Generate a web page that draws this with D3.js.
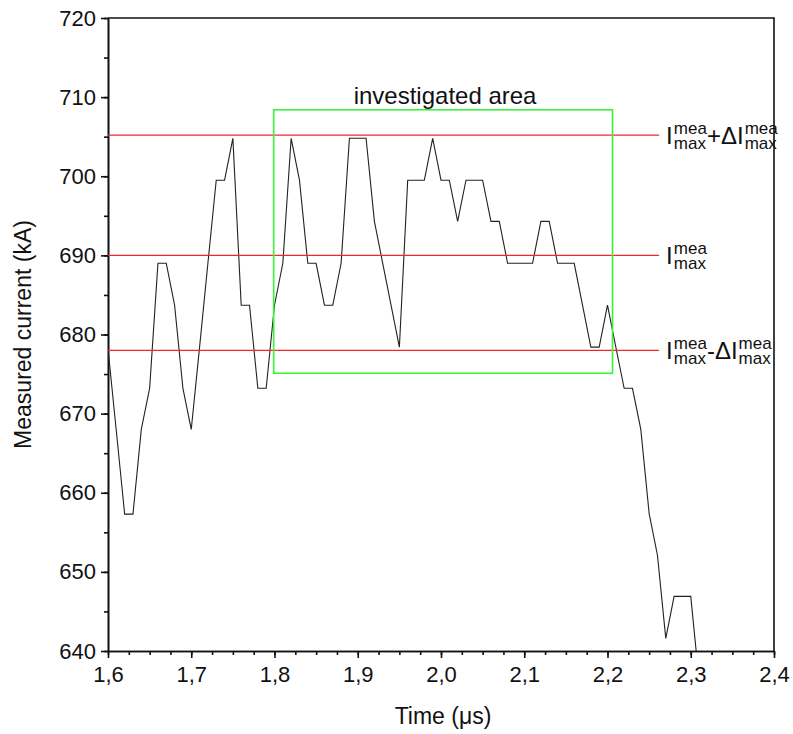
<!DOCTYPE html>
<html>
<head>
<meta charset="utf-8">
<script src="https://cdn.jsdelivr.net/npm/d3@7"></script>
<style>
  body { margin: 0; background: #fff; }
  text { font-family: "Liberation Sans", Arial, sans-serif; fill: #111; }
</style>
</head>
<body>
<svg id="chart" width="793" height="734"></svg>
<script>
// measured current trace (sampled every 0.01 us)
var times = [1.60,1.61,1.62,1.63,1.64,1.65,1.66,1.67,1.68,1.69,
             1.70,1.71,1.72,1.73,1.74,1.75,1.76,1.77,1.78,1.79,
             1.80,1.81,1.82,1.83,1.84,1.85,1.86,1.87,1.88,1.89,
             1.90,1.91,1.92,1.93,1.94,1.95,1.96,1.97,1.98,1.99,
             2.00,2.01,2.02,2.03,2.04,2.05,2.06,2.07,2.08,2.09,
             2.10,2.11,2.12,2.13,2.14,2.15,2.16,2.17,2.18,2.19,
             2.20,2.21,2.22,2.23,2.24,2.25,2.26,2.27,2.28,2.29,
             2.30,2.31];
var current = [678.2,667.8,657.3,657.3,668.0,673.2,689.0,689.0,683.7,673.2,
               668.0,678.4,689.0,699.5,699.5,704.8,683.7,683.7,673.2,673.2,
               683.7,689.0,704.8,699.5,689.0,689.0,683.7,683.7,689.0,704.8,
               704.8,704.8,694.3,689.0,683.7,678.4,699.5,699.5,699.5,704.8,
               699.5,699.5,694.3,699.5,699.5,699.5,694.3,694.3,689.0,689.0,
               689.0,689.0,694.3,694.3,689.0,689.0,689.0,683.7,678.4,678.4,
               683.7,678.4,673.2,673.2,668.0,657.4,652.1,641.6,646.9,646.9,
               646.9,636.3];

// reference levels: I_max^mea + dI, I_max^mea, I_max^mea - dI
var levels = [705.2, 690.0, 678.0];
var levelSigns = ["+", "", "-"];
var levelEndTime = 2.262;

// investigated area box
var areaTime = [1.799, 2.206];
var areaCurrent = [675.1, 708.4];
var areaTitle = "investigated area";

var xTicks = [1.6,1.7,1.8,1.9,2.0,2.1,2.2,2.3,2.4];
var yTicks = [640,650,660,670,680,690,700,710,720];

var margin = {top: 18, right: 19, bottom: 83, left: 108};
var W = 793, H = 734;
var w = W - margin.left - margin.right;
var h = H - margin.top - margin.bottom;

var svg = d3.select('#chart');
var g = svg.append('g').attr('transform', 'translate(' + margin.left + ',' + margin.top + ')');

var x = d3.scaleLinear().domain([1.6, 2.4]).range([0, w]);
var y = d3.scaleLinear().domain([640, 720]).range([h, 0]);
var fmt = function(d){ return d3.format('.1f')(d).replace('.', ','); };

g.append('clipPath').attr('id', 'clip')
  .append('rect').attr('width', w).attr('height', h);

// minor ticks
var xMinor = d3.range(0, 33).map(function(i){ return 1.6 + i * 0.025; });
var yMinor = d3.range(0, 17).map(function(i){ return 640 + i * 5; });

var xAxis = d3.axisBottom(x).tickValues(xTicks).tickFormat(fmt).tickSize(7).tickSizeOuter(0);
var xAxisMinor = d3.axisBottom(x).tickValues(xMinor).tickFormat('').tickSize(4).tickSizeOuter(0);
var yAxis = d3.axisLeft(y).tickValues(yTicks).tickFormat(d3.format('d')).tickSize(7).tickSizeOuter(0);
var yAxisMinor = d3.axisLeft(y).tickValues(yMinor).tickFormat('').tickSize(4).tickSizeOuter(0);

function styleAxis(sel) {
  sel.selectAll('path, line').attr('stroke', '#111').attr('stroke-width', 1.6);
  sel.selectAll('text').attr('font-size', 22).attr('fill', '#111');
}

g.append('g').attr('transform', 'translate(0,' + h + ')').call(xAxisMinor).call(styleAxis);
g.append('g').attr('transform', 'translate(0,' + h + ')').call(xAxis).call(styleAxis)
  .selectAll('text').attr('dy', '0.95em');
g.append('g').call(yAxisMinor).call(styleAxis);
g.append('g').call(yAxis).call(styleAxis)
  .selectAll('text').attr('x', -12);

// frame top + right
g.append('path')
  .attr('d', 'M0,0H' + w + 'V' + h)
  .attr('fill', 'none').attr('stroke', '#111').attr('stroke-width', 1.6);

// data line
var line = d3.line()
  .x(function(d, i){ return x(times[i]); })
  .y(function(d){ return y(d); });

g.append('path')
  .datum(current)
  .attr('clip-path', 'url(#clip)')
  .attr('d', line)
  .attr('fill', 'none')
  .attr('stroke', '#222')
  .attr('stroke-width', 1.1);

// reference lines
g.selectAll('.lvl').data(levels).enter().append('line')
  .attr('x1', x(1.6)).attr('x2', x(levelEndTime))
  .attr('y1', function(d){ return y(d); })
  .attr('y2', function(d){ return y(d); })
  .attr('stroke', '#f0282a').attr('stroke-width', 1.4);

// investigated area
g.append('rect')
  .attr('x', x(areaTime[0])).attr('y', y(areaCurrent[1]))
  .attr('width', x(areaTime[1]) - x(areaTime[0]))
  .attr('height', y(areaCurrent[0]) - y(areaCurrent[1]))
  .attr('fill', 'none').attr('stroke', '#3cf03c').attr('stroke-width', 1.6);

g.append('text')
  .attr('x', (x(areaTime[0]) + x(areaTime[1])) / 2 + 2)
  .attr('y', y(areaCurrent[1]) - 6)
  .attr('text-anchor', 'middle')
  .attr('font-size', 24)
  .text(areaTitle);

// I_max^mea labels, built as one text per level with stacked sup/sub tspans
function addSymbol(t, first) {
  t.append('tspan').attr('font-size', 24).attr('dy', first ? 0 : 0).text('I');
  var sup = t.append('tspan').attr('font-size', 17).attr('dx', 1).attr('dy', -10).text('mea');
  var supW = sup.node().getComputedTextLength();
  t.append('tspan').attr('font-size', 17).attr('dx', -supW).attr('dy', 15).text('max');
  // back to baseline
  return t;
}

levels.forEach(function(v, i) {
  var yc = y(v);
  var t = g.append('text').attr('x', x(levelEndTime) + 7).attr('y', yc + 9);
  addSymbol(t);
  if (levelSigns[i]) {
    t.append('tspan').attr('font-size', 24).attr('dx', 1).attr('dy', -5).text(levelSigns[i] + '\u0394');
    addSymbol(t);
  }
});

// axis titles
svg.append('text')
  .attr('x', margin.left + w / 2 + 2)
  .attr('y', H - 10)
  .attr('text-anchor', 'middle')
  .attr('font-size', 23)
  .text('Time (\u03bcs)');

svg.append('text')
  .attr('transform', 'translate(31,' + (margin.top + h / 2) + ') rotate(-90)')
  .attr('text-anchor', 'middle')
  .attr('font-size', 23)
  .text('Measured current (kA)');
</script>
</body>
</html>
